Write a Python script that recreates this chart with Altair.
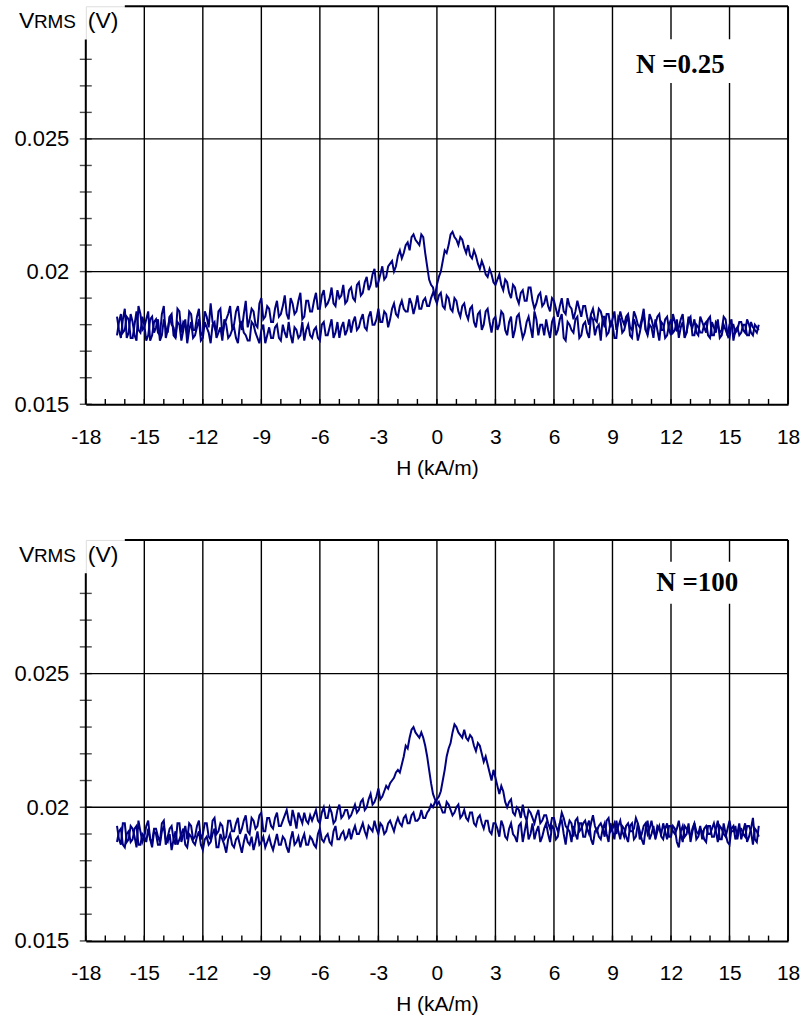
import altair as alt
import pandas as pd
import numpy as np

# ---------------- data (V_RMS in mV) ----------------
# main samples at H = -16.4 + 0.2*i, "mid" samples at H = -16.3 + 0.2*i  (kA/m)
H_START = -16.4
H_STEP = 0.2

# N = 0.25 : branch swept downward (peak at negative H), ascending H
top_down = [
    18.3, 17.5, 18.6, 17.7, 18.1, 17.4, 18.4, 17.9, 18.5, 17.6,
    18.2, 17.6, 18.7, 17.8, 18.0, 17.5, 18.5, 18.1, 17.6, 18.4,
    17.8, 18.6, 17.7, 18.3, 18.8, 17.9, 18.5, 17.6, 18.2, 18.7,
    18.0, 18.7, 17.8, 18.9, 18.2, 18.5, 17.9, 19.0, 18.3, 18.6,
    18.1, 18.9, 18.4, 19.1, 18.2, 18.8, 18.5, 19.2, 18.3, 18.9,
    18.5, 19.2, 18.6, 19.3, 18.8, 19.4, 18.7, 19.0, 19.5, 18.9,
    19.4, 18.9, 19.6, 19.2, 19.8, 19.5, 20.1, 19.6, 20.2, 19.8,
    20.3, 20.0, 20.6, 20.5, 21.0, 20.8, 21.4, 21.1, 21.4, 20.7,
    19.7, 19.4, 18.8, 19.2, 18.6, 19.0, 18.5, 18.9, 18.3, 18.8,
    18.2, 18.7, 17.9, 18.5, 18.0, 18.6, 17.7, 18.3, 18.0, 18.4,
    17.6, 18.3, 17.8, 18.4, 17.5, 18.1, 17.9, 18.5, 17.6, 18.0,
    18.2, 17.5, 18.3, 17.8, 18.4, 17.4, 18.0, 17.7, 18.3, 17.6,
    18.1, 17.5, 18.2, 17.9, 17.4, 18.3, 17.7, 18.0, 17.5, 18.2,
    17.8, 18.3, 17.5, 18.0, 17.7, 18.4, 17.6, 17.9, 18.2, 17.4,
    18.0, 17.6, 18.2, 17.8, 17.5, 18.1, 17.7, 18.3, 17.6, 17.9,
    17.7, 18.1, 17.5, 17.9, 18.2, 17.6, 17.8, 18.0, 17.4, 17.9,
    17.7, 18.0, 17.6, 17.9, 17.7,
]
top_down_mid = [
    17.8, 18.2, 17.5, 18.4, 17.6, 18.7, 17.8, 18.2, 17.4, 18.1,
    17.7, 18.4, 17.5, 18.3, 17.9, 18.6, 17.7, 18.0, 18.5, 17.8,
    18.3, 17.6, 18.5, 17.9, 18.1, 17.7, 18.6, 18.0, 18.4, 17.9,
    18.5, 18.1, 18.4, 17.9, 18.6, 18.0, 18.8, 18.2, 18.7, 18.1,
    18.6, 18.3, 18.7, 18.4, 19.0, 18.4, 18.9, 18.2, 18.9, 18.5,
    18.9, 18.6, 19.1, 18.7, 19.0, 18.8, 19.3, 19.1, 18.8, 19.3,
    19.0, 19.5, 19.1, 19.6, 19.3, 19.9, 19.4, 19.9, 19.7, 20.2,
    20.4, 20.2, 20.8, 20.7, 21.1, 21.3, 21.2, 21.0, 21.3, 20.2,
    19.5, 19.0, 19.1, 18.7, 19.1, 18.6, 19.0, 18.5, 18.7, 18.4,
    18.6, 18.1, 18.4, 17.8, 18.5, 18.1, 18.2, 17.8, 18.5, 17.8,
    18.1, 17.5, 18.3, 17.9, 17.7, 18.3, 17.5, 18.2, 18.0, 17.6,
    17.8, 18.1, 17.6, 18.2, 17.5, 18.1, 17.8, 18.2, 17.5, 18.0,
    17.7, 18.3, 17.6, 18.0, 18.3, 17.6, 18.1, 17.5, 18.3, 17.7,
    18.1, 17.6, 18.2, 17.4, 18.1, 17.8, 18.0, 17.5, 17.8, 18.1,
    17.5, 18.0, 17.7, 18.2, 17.9, 17.5, 18.2, 17.6, 18.0, 17.7,
    18.0, 17.6, 18.1, 17.7, 17.5, 18.0, 17.6, 18.2, 17.8, 17.6,
    18.0, 17.6, 18.1, 17.8, 18.0,
]
# N = 0.25 : branch swept upward (peak at positive H)
top_up = [
    17.6, 18.4, 17.8, 18.2, 17.5, 18.5, 17.7, 18.0, 17.6, 18.3,
    17.9, 17.4, 18.2, 17.7, 18.4, 17.5, 18.0, 17.8, 17.3, 18.1,
    17.6, 18.2, 17.5, 17.9, 17.3, 18.1, 17.7, 17.4, 18.0, 17.6,
    17.9, 17.3, 18.1, 17.6, 17.4, 18.0, 17.5, 17.8, 17.3, 17.9,
    17.5, 18.0, 17.4, 17.7, 18.1, 17.3, 17.8, 17.6, 17.4, 18.0,
    17.5, 17.9, 17.4, 18.1, 17.6, 18.2, 17.7, 17.5, 18.1, 17.8,
    17.7, 18.3, 17.9, 18.4, 17.8, 18.5, 18.0, 18.6, 18.1, 18.4,
    18.2, 18.8, 18.3, 18.9, 18.5, 19.0, 18.4, 19.1, 18.6, 19.0,
    18.7, 19.2, 19.5, 20.0, 20.8, 21.0, 21.5, 21.2, 21.3, 20.9,
    21.0, 20.5, 20.6, 20.1, 20.2, 19.8, 19.9, 19.5, 19.9, 19.3,
    19.6, 19.0, 19.4, 18.8, 19.3, 18.9, 19.4, 18.6, 19.1, 18.7,
    19.1, 18.5, 18.9, 18.3, 19.0, 18.4, 18.7, 18.2, 18.9, 18.3,
    18.7, 18.0, 18.6, 18.1, 18.5, 17.9, 18.4, 18.2, 17.8, 18.5,
    18.0, 18.4, 17.8, 18.3, 17.9, 18.6, 17.7, 18.2, 18.0, 18.4,
    17.8, 18.3, 17.6, 18.1, 17.9, 18.4, 17.7, 18.0, 18.2, 17.6,
    18.1, 17.7, 18.3, 17.6, 18.0, 17.8, 18.2, 17.5, 18.0, 17.8,
    18.1, 17.7, 18.0, 17.6, 17.9,
]
top_up_mid = [
    18.1, 17.7, 18.3, 17.5, 18.0, 17.8, 18.3, 17.4, 18.2, 17.7,
    18.2, 17.6, 17.9, 18.3, 17.6, 18.1, 17.4, 18.2, 17.8, 17.5,
    17.9, 17.4, 18.1, 17.7, 18.0, 17.5, 17.9, 18.2, 17.5, 17.8,
    17.5, 18.0, 17.7, 17.4, 18.1, 17.7, 17.3, 18.0, 17.6, 17.5,
    17.9, 17.5, 18.0, 17.5, 17.6, 17.9, 17.5, 18.1, 17.8, 17.6,
    17.8, 17.5, 18.0, 17.6, 17.9, 17.5, 18.1, 17.9, 17.6, 18.2,
    18.1, 17.8, 18.2, 17.9, 18.3, 18.0, 18.2, 18.1, 18.5, 17.9,
    18.6, 18.4, 18.7, 18.6, 18.5, 18.8, 18.7, 18.6, 18.9, 18.7,
    19.0, 19.1, 19.8, 20.4, 20.7, 21.4, 21.3, 21.0, 21.2, 20.7,
    20.6, 20.8, 20.3, 20.4, 19.9, 20.1, 19.6, 19.7, 19.5, 19.7,
    19.2, 19.5, 19.0, 19.2, 18.9, 19.4, 18.9, 18.8, 19.2, 18.8,
    18.7, 19.0, 18.6, 18.7, 18.5, 19.0, 18.6, 18.5, 18.6, 18.7,
    18.3, 18.4, 18.2, 18.6, 18.2, 18.4, 17.9, 18.5, 18.1, 18.2,
    18.3, 17.9, 18.5, 18.0, 18.2, 17.8, 18.4, 17.9, 18.3, 17.8,
    18.2, 17.8, 18.4, 17.8, 18.2, 17.6, 18.3, 17.9, 17.7, 18.3,
    17.9, 18.2, 17.6, 18.1, 17.7, 18.3, 17.6, 18.0, 17.7, 18.1,
    17.8, 18.2, 17.7, 18.0, 17.8,
]
# N = 100 : branch swept downward
bot_down = [
    19.3, 18.6, 19.4, 18.8, 19.2, 18.5, 19.1, 18.9, 19.5, 18.7,
    19.2, 18.7, 19.5, 18.9, 19.3, 18.6, 19.4, 19.0, 18.8, 19.3,
    18.9, 19.5, 19.0, 19.4, 18.8, 19.6, 19.1, 19.3, 18.9, 19.5,
    19.1, 19.6, 19.2, 19.7, 19.0, 19.5, 19.3, 19.8, 19.1, 19.6,
    19.2, 19.8, 19.3, 19.7, 19.5, 19.9, 19.2, 19.6, 19.8, 19.4,
    19.5, 19.9, 19.4, 20.0, 19.6, 19.8, 19.5, 20.1, 19.7, 19.9,
    19.7, 20.1, 19.9, 20.3, 20.0, 20.5, 20.2, 20.7, 20.4, 20.8,
    20.9, 21.1, 21.4, 21.6, 22.3, 22.6, 23.0, 22.7, 22.8, 22.3,
    21.4, 20.5, 20.1, 20.0, 19.8, 20.1, 19.7, 20.0, 19.6, 19.9,
    19.5, 19.8, 19.3, 19.7, 19.2, 19.5, 19.0, 19.4, 18.9, 19.3,
    18.8, 19.4, 18.9, 19.3, 18.7, 19.5, 19.0, 18.8, 19.3, 18.9,
    19.4, 18.7, 19.2, 18.9, 19.5, 18.6, 19.1, 19.3, 18.8, 19.4,
    18.9, 19.5, 18.6, 19.2, 18.8, 19.4, 18.7, 19.1, 19.5, 18.8,
    19.2, 18.7, 19.4, 18.9, 19.1, 18.6, 19.5, 19.0, 18.8, 19.3,
    18.8, 19.4, 18.9, 19.2, 18.5, 19.3, 19.0, 18.7, 19.4, 18.9,
    19.1, 18.7, 19.3, 18.9, 19.5, 18.8, 19.0, 18.6, 19.3, 19.0,
    18.8, 19.4, 18.9, 19.6, 18.7,
]
bot_down_mid = [
    18.8, 19.4, 18.7, 19.3, 18.9, 19.5, 18.7, 19.3, 18.8, 19.2,
    18.9, 19.4, 18.6, 19.2, 18.8, 19.4, 18.7, 19.3, 19.4, 18.8,
    19.3, 18.8, 19.4, 18.9, 19.5, 19.0, 19.4, 18.8, 19.5, 19.1,
    19.4, 19.0, 19.5, 19.1, 19.6, 19.2, 19.7, 19.1, 19.6, 19.3,
    19.6, 19.3, 19.5, 19.9, 19.3, 19.6, 19.8, 19.4, 19.5, 19.7,
    19.7, 19.5, 19.8, 19.6, 20.0, 19.4, 19.9, 19.6, 19.9, 19.6,
    19.9, 19.8, 20.2, 19.9, 20.3, 20.1, 20.4, 20.3, 20.6, 20.7,
    21.0, 21.3, 21.3, 21.9, 22.2, 22.9, 22.8, 22.6, 22.6, 21.9,
    20.9, 20.3, 20.2, 19.8, 20.2, 19.9, 19.8, 20.1, 19.7, 19.6,
    19.8, 19.4, 19.6, 19.4, 19.5, 19.1, 19.4, 19.2, 19.5, 18.9,
    19.2, 19.0, 18.7, 19.4, 19.1, 18.8, 19.4, 19.1, 18.7, 19.2,
    19.0, 19.3, 18.8, 19.4, 19.0, 19.2, 18.7, 19.0, 19.4, 18.9,
    19.3, 18.8, 19.1, 18.9, 19.2, 19.0, 19.4, 18.8, 19.1, 19.3,
    18.9, 19.3, 18.8, 19.4, 18.8, 19.2, 18.8, 19.3, 19.1, 18.9,
    19.2, 18.9, 19.3, 18.7, 19.1, 18.9, 19.4, 19.1, 18.8, 19.2,
    18.8, 19.3, 18.9, 19.2, 18.8, 19.4, 18.7, 19.2, 18.8, 19.4,
    19.1, 18.7, 19.2, 18.8, 19.3,
]
# N = 100 : branch swept upward
bot_up = [
    18.7, 19.2, 18.5, 19.1, 18.8, 19.3, 18.6, 18.9, 19.2, 18.5,
    19.0, 18.6, 19.3, 18.7, 18.4, 19.1, 18.8, 19.2, 18.5, 18.9,
    18.6, 19.1, 18.4, 18.9, 18.7, 19.2, 18.5, 18.8, 18.3, 19.0,
    18.5, 18.9, 18.3, 19.0, 18.6, 18.4, 19.1, 18.7, 18.5, 18.9,
    18.4, 19.0, 18.6, 18.8, 18.3, 19.1, 18.7, 18.5, 19.0, 18.6,
    18.8, 18.5, 19.2, 18.7, 19.0, 18.6, 19.3, 18.8, 19.1, 18.9,
    18.8, 19.3, 19.0, 19.4, 18.9, 19.2, 19.5, 19.0, 19.3, 19.1,
    19.5, 19.1, 19.6, 19.3, 19.7, 19.4, 19.8, 19.5, 19.9, 19.6,
    19.9, 20.0, 20.3, 20.6, 21.4, 22.2, 22.8, 23.0, 22.7, 22.9,
    22.5, 22.6, 22.1, 22.3, 21.7, 21.6, 21.0, 21.1, 20.5, 20.6,
    20.0, 20.3, 19.7, 19.9, 20.1, 19.5, 19.8, 19.4, 19.9, 19.5,
    19.7, 19.2, 19.6, 19.1, 19.8, 19.3, 19.5, 18.9, 19.6, 19.2,
    19.5, 19.0, 19.7, 19.1, 19.4, 18.9, 19.6, 19.2, 19.0, 19.5,
    18.9, 19.4, 19.1, 19.6, 18.8, 19.3, 19.0, 19.5, 18.9, 19.2,
    19.4, 18.8, 19.3, 19.0, 19.5, 18.7, 19.2, 18.9, 19.4, 19.0,
    18.8, 19.3, 19.0, 19.4, 18.7, 19.2, 18.9, 19.5, 19.1, 18.8,
    19.2, 18.9, 19.3, 18.6, 19.1,
]
bot_up_mid = [
    19.1, 18.6, 19.0, 18.7, 19.2, 18.6, 19.0, 18.7, 18.8, 19.1,
    18.6, 19.1, 18.8, 19.0, 18.8, 18.6, 19.0, 18.6, 19.0, 18.7,
    18.9, 18.6, 18.8, 18.6, 19.0, 18.5, 19.0, 18.6, 18.8, 18.6,
    18.8, 18.6, 18.7, 18.7, 18.9, 18.7, 18.6, 18.9, 18.7, 18.6,
    18.7, 18.6, 18.9, 18.5, 18.8, 18.6, 18.9, 18.8, 18.6, 18.9,
    18.6, 19.0, 18.8, 18.9, 18.7, 19.1, 18.8, 19.0, 18.8, 19.2,
    19.1, 19.0, 19.2, 19.1, 19.3, 19.1, 19.2, 19.4, 19.0, 19.4,
    19.3, 19.4, 19.4, 19.6, 19.4, 19.7, 19.5, 19.6, 19.6, 19.8,
    20.1, 20.2, 20.4, 21.0, 21.9, 22.4, 23.1, 22.8, 22.6, 22.6,
    22.7, 22.3, 22.4, 22.0, 21.9, 21.3, 21.4, 20.8, 20.8, 20.2,
    20.2, 19.8, 20.0, 19.6, 19.7, 19.9, 19.6, 19.7, 19.4, 19.7,
    19.4, 19.6, 19.3, 19.4, 19.6, 19.2, 19.4, 19.5, 19.1, 19.4,
    19.2, 19.4, 19.3, 19.3, 19.2, 19.5, 19.1, 19.4, 19.3, 19.1,
    19.3, 19.1, 19.2, 19.4, 19.0, 19.4, 19.2, 19.1, 19.3, 19.0,
    19.1, 19.3, 19.1, 19.2, 19.0, 19.3, 19.1, 19.2, 19.1, 19.3,
    19.2, 19.0, 19.2, 19.1, 19.3, 19.0, 19.2, 19.1, 19.3, 19.2,
    19.0, 19.3, 19.1, 19.2, 18.9,
]

x_labels = [-18, -15, -12, -9, -6, -3, 0, 3, 6, 9, 12, 15, 18]
x_grid = [-15, -12, -9, -6, -3, 0, 3, 6, 9, 12, 15]
x_minor = list(range(-18, 19))
y_labels = [0.015, 0.02, 0.025]
y_grid = [0.02, 0.025]
y_minor = [0.015, 0.016, 0.017, 0.018, 0.019, 0.020, 0.021,
           0.022, 0.023, 0.024, 0.025, 0.026, 0.027, 0.028]
panel_labels = ["N =0.25", "N =100"]

# ---------------- styling ----------------
NAVY = "#000080"
FONT = "Liberation Sans"
SERIF = "Liberation Serif"
PLOT_W = 704


def branch_df(vals, mids, name):
    n, m = len(vals), len(mids)
    h1 = np.round(H_START + H_STEP * np.arange(n), 2)
    h2 = np.round(H_START + H_STEP / 2 + H_STEP * np.arange(m), 2)
    d = pd.DataFrame({"H": np.concatenate([h1, h2]),
                      "V": np.concatenate([np.array(vals, float), np.array(mids, float)]) / 1000.0})
    d["branch"] = name
    return d.sort_values("H").reset_index(drop=True)


def panel(down, down_mid, up, up_mid, label, plot_h, box, text_pos):
    XS = alt.Scale(domain=[-18, 18], nice=False, zero=False)
    YS = alt.Scale(domain=[0.015, 0.03], nice=False, zero=False)
    AX = alt.Axis(title="H (kA/m)", values=x_labels, grid=False, ticks=False, tickSize=0,
                  domain=True, domainColor="black", domainWidth=2,
                  labelFont=FONT, labelFontSize=21, labelColor="black",
                  labelExpr="'' + datum.value",
                  labelPadding=22, labelFlush=False, labelOverlap=False,
                  titleFont=FONT, titleFontSize=21, titleFontWeight="normal",
                  titleColor="black", titlePadding=10)
    AY = alt.Axis(title=None, values=y_labels, format=".3~f", grid=False, ticks=False,
                  tickSize=0, domain=False, labelFont=FONT, labelFontSize=22,
                  labelColor="black", labelPadding=17, labelFlush=False, labelOverlap=False)

    def X():
        return alt.X("H:Q", scale=XS, axis=AX)

    def Y():
        return alt.Y("V:Q", scale=YS, axis=AY)

    data = pd.concat([branch_df(down, down_mid, "down"), branch_df(up, up_mid, "up")],
                     ignore_index=True)
    vgrid = pd.DataFrame({"H": x_grid, "V": 0.015, "V2": 0.03})
    hgrid = pd.DataFrame({"V": y_grid, "H": -18.0, "H2": 18.0})
    top_edge = pd.DataFrame({"V": [0.03], "H": [-16.0], "H2": [18.0]})
    side_edges = pd.DataFrame({"H": [18.0, -18.0], "V": [0.015, 0.015], "V2": [0.03, 0.02875]})
    xt = pd.DataFrame({"H": x_minor, "V": 0.015, "V2": 0.0152})
    yt = pd.DataFrame({"V": y_minor, "H": -18.0})
    one = pd.DataFrame({"t": [label]})

    vg = alt.Chart(vgrid).mark_rule(color="black", strokeWidth=1.4).encode(
        x=X(), y=Y(), y2="V2:Q")
    hg = alt.Chart(hgrid).mark_rule(color="black", strokeWidth=1.4).encode(
        x=X(), x2="H2:Q", y=Y())
    te = alt.Chart(top_edge).mark_rule(color="black", strokeWidth=2).encode(
        x=X(), x2="H2:Q", y=Y())
    se = alt.Chart(side_edges).mark_rule(color="black", strokeWidth=2).encode(
        x=X(), y=Y(), y2="V2:Q")
    xtick = alt.Chart(xt).mark_rule(color="black", strokeWidth=1.4).encode(
        x=X(), y=Y(), y2="V2:Q")
    ytick = alt.Chart(yt).mark_tick(color="black", orient="horizontal", size=12,
                                    thickness=1.4).encode(x=X(), y=Y())
    lines = alt.Chart(data).mark_line(color=NAVY, strokeWidth=2.0).encode(
        x=X(), y=Y(), detail="branch:N")

    bx = alt.Chart(one).mark_rect(color="white").encode(
        x=alt.value(box[0]), x2=alt.value(box[1]),
        y=alt.value(box[2]), y2=alt.value(box[3]))
    ntext = alt.Chart(one).mark_text(font=SERIF, fontWeight="bold", fontSize=27,
                                     align="center", baseline="alphabetic",
                                     color="black").encode(
        x=alt.value(text_pos[0]), y=alt.value(text_pos[1]), text="t:N")

    v1 = alt.Chart(one).mark_text(font=FONT, fontSize=23, align="left",
                                  baseline="alphabetic", color="black").encode(
        x=alt.value(-67), y=alt.value(22), text=alt.value("V"))
    v2 = alt.Chart(one).mark_text(font=FONT, fontSize=19, align="left",
                                  baseline="alphabetic", color="black").encode(
        x=alt.value(-52), y=alt.value(22), text=alt.value("RMS"))
    v3 = alt.Chart(one).mark_text(font=FONT, fontSize=23, align="left",
                                  baseline="alphabetic", color="black").encode(
        x=alt.value(2), y=alt.value(22), text=alt.value("(V)"))

    return alt.layer(vg, hg, te, se, xtick, ytick, lines, bx, ntext, v1, v2, v3).properties(
        width=PLOT_W, height=plot_h)


top = panel(top_down, top_down_mid, top_up, top_up_mid, panel_labels[0], 399,
            (545, 655, 33, 77), (596, 67))
bottom = panel(bot_down, bot_down_mid, bot_up, bot_up_mid, panel_labels[1], 402,
               (560, 668, 22, 64), (613, 51))

chart = alt.vconcat(top, bottom, spacing=59).properties(
    padding={"left": 13, "top": 3, "right": 5, "bottom": 5}
).configure_view(strokeWidth=0).configure(background="white")

chart.save("out.html", embed_options={"renderer": "svg", "actions": False})
